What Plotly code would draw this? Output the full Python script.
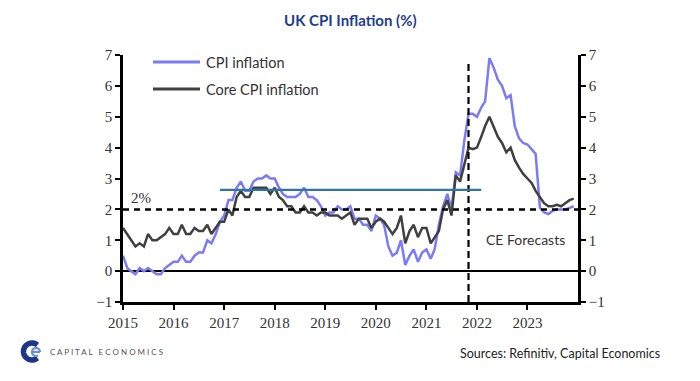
import math
import pandas as pd
import plotly.graph_objects as go

# ---------------- data ----------------
dates = pd.date_range("2015-01-01", periods=108, freq="MS")

cpi = [
    0.5, 0.1, 0.0, -0.1, 0.1, 0.0, 0.1, 0.0, -0.1, -0.1, 0.1, 0.2,      # 2015
    0.3, 0.3, 0.5, 0.3, 0.3, 0.5, 0.6, 0.6, 1.0, 0.9, 1.2, 1.6,         # 2016
    1.8, 2.3, 2.3, 2.7, 2.9, 2.6, 2.6, 2.9, 3.0, 3.0, 3.1, 3.0,         # 2017
    3.0, 2.7, 2.5, 2.4, 2.4, 2.4, 2.5, 2.7, 2.4, 2.4, 2.3, 2.1,         # 2018
    1.8, 1.9, 1.9, 2.1, 2.0, 2.0, 2.1, 1.7, 1.7, 1.5, 1.5, 1.3,         # 2019
    1.8, 1.7, 1.5, 0.8, 0.5, 0.6, 1.0, 0.2, 0.5, 0.7, 0.3, 0.6,         # 2020
    0.7, 0.4, 0.7, 1.5, 2.1, 2.5, 2.0, 3.2, 3.1, 4.2, 5.1, 5.1,         # 2021
    5.0, 5.3, 5.5, 6.9, 6.6, 6.2, 6.0, 5.6, 5.7, 4.7, 4.3, 4.15,        # 2022
    4.1, 3.95, 3.8, 2.05, 1.9, 1.85, 1.95, 2.0, 2.0, 2.0, 2.05, 2.1,    # 2023
]
core_cpi = [
    1.4, 1.2, 1.0, 0.8, 0.9, 0.8, 1.2, 1.0, 1.0, 1.1, 1.2, 1.4,         # 2015
    1.2, 1.2, 1.5, 1.2, 1.2, 1.4, 1.3, 1.3, 1.5, 1.2, 1.4, 1.6,         # 2016
    1.6, 2.0, 1.8, 2.4, 2.6, 2.4, 2.4, 2.7, 2.7, 2.7, 2.7, 2.5,         # 2017
    2.7, 2.4, 2.3, 2.1, 2.1, 1.9, 1.9, 2.1, 1.9, 1.9, 1.8, 1.9,         # 2018
    1.9, 1.8, 1.8, 1.8, 1.7, 1.8, 1.9, 1.5, 1.7, 1.7, 1.7, 1.4,         # 2019
    1.6, 1.7, 1.6, 1.4, 1.2, 1.4, 1.8, 0.9, 1.3, 1.5, 1.1, 1.4,         # 2020
    1.4, 0.9, 1.1, 1.3, 2.0, 2.3, 1.8, 3.1, 2.9, 3.4, 4.0, 3.95,        # 2021
    4.0, 4.35, 4.7, 5.0, 4.7, 4.35, 4.15, 3.85, 4.0, 3.6, 3.35, 3.15,   # 2022
    3.0, 2.85, 2.6, 2.4, 2.2, 2.1, 2.1, 2.15, 2.1, 2.2, 2.3, 2.35,      # 2023
]

series_names = ["CPI inflation", "Core CPI inflation"]
x_tick_dates = [f"{y}-01-01" for y in range(2015, 2024)]
x_tick_labels = [str(y) for y in range(2015, 2024)]
y_ticks = [-1, 0, 1, 2, 3, 4, 5, 6, 7]
x_range = ["2015-01-01", "2024-01-01"]
target_level = 2.0
forecast_start = "2021-11-01"
forecast_line_top = 6.75
avg_line_x = ["2016-12-01", "2022-02-01"]
avg_line_y = 2.63

# ---------------- style ----------------
CPI_COLOR = "#7b7bf4"
CORE_COLOR = "#404040"
AVG_COLOR = "#31769f"
SERIF = "Liberation Serif"
SANS = "Lato"

# page has an 8px body margin; plot-area pixel mapping in screen coordinates
PX_L, PX_R, PX_T, PX_B = 123, 578, 55, 302


def px(xs):
    return (xs - PX_L) / (PX_R - PX_L)


def py(ys):
    return (PX_B - ys) / (PX_B - PX_T)


fig = go.Figure()
fig.add_trace(go.Scatter(x=dates, y=cpi, mode="lines", name=series_names[0],
                         line=dict(color=CPI_COLOR, width=2.5), showlegend=False))
fig.add_trace(go.Scatter(x=dates, y=core_cpi, mode="lines", name=series_names[1],
                         line=dict(color=CORE_COLOR, width=2.5), showlegend=False))
# invisible trace so the right-hand axis renders
fig.add_trace(go.Scatter(x=dates, y=core_cpi, mode="lines", yaxis="y2",
                         line=dict(width=0), opacity=0, hoverinfo="skip",
                         showlegend=False))

fig.add_shape(type="line", xref="paper", x0=0, x1=1, yref="y",
              y0=target_level, y1=target_level,
              line=dict(color="black", width=2.5, dash="6px,5px"), layer="above")
fig.add_shape(type="line", xref="x", x0=forecast_start, x1=forecast_start,
              yref="y", y0=-1, y1=forecast_line_top,
              line=dict(color="black", width=2.2, dash="7px,4px"), layer="above")
fig.add_shape(type="line", xref="x", x0=avg_line_x[0], x1=avg_line_x[1],
              yref="y", y0=avg_line_y, y1=avg_line_y,
              line=dict(color=AVG_COLOR, width=2.4), layer="above")

# manual legend
leg_py = [62, 89]
leg_col = [CPI_COLOR, CORE_COLOR]
for i in range(2):
    fig.add_shape(type="line", xref="paper", yref="paper", x0=px(153), x1=px(200),
                  y0=py(leg_py[i]), y1=py(leg_py[i]), line=dict(color=leg_col[i], width=3))
    fig.add_annotation(xref="paper", yref="paper", x=px(204), y=py(leg_py[i]),
                       text=series_names[i], showarrow=False, xanchor="left",
                       yanchor="middle", font=dict(family=SANS, size=14.5, color="#333"))

fig.add_annotation(x="2015-02-10", y=2.38, text="2%", showarrow=False,
                   xanchor="left", yanchor="middle",
                   font=dict(family=SERIF, size=15, color="#333"))
fig.add_annotation(x="2022-12-20", y=1.03, text="CE Forecasts", showarrow=False,
                   xanchor="center", yanchor="middle",
                   font=dict(family=SANS, size=14, color="#333"))

fig.add_annotation(xref="paper", yref="paper", x=px(350), y=py(20),
                   text="<b>UK CPI Inflation (%)</b>", showarrow=False,
                   xanchor="center", yanchor="middle",
                   font=dict(family=SANS, size=15, color="#1f3d8c"))
fig.add_annotation(xref="paper", yref="paper", x=px(662), y=py(353),
                   text="Sources: Refinitiv, Capital Economics", showarrow=False,
                   xanchor="right", yanchor="middle",
                   font=dict(family=SANS, size=12.5, color="#222"))


# logo drawn from shapes
def arc_path(cx, cy, r, a0, a1, n=30):
    pts = []
    for k in range(n + 1):
        a = math.radians(a0 + (a1 - a0) * k / n)
        pts.append((px(cx + r * math.cos(a)), py(cy - r * math.sin(a))))
    return "M " + " L ".join(f"{x:.5f},{y:.5f}" for x, y in pts)


fig.add_shape(type="path", xref="paper", yref="paper",
              path=arc_path(32, 351.5, 8.5, 50, 310),
              line=dict(color="#1d3787", width=5.5))
fig.add_shape(type="path", xref="paper", yref="paper",
              path=arc_path(36, 352, 4, 0, 300),
              line=dict(color="#6e8fd6", width=2.2))
fig.add_shape(type="line", xref="paper", yref="paper",
              x0=px(32), x1=px(40), y0=py(352), y1=py(352),
              line=dict(color="#6e8fd6", width=2))
fig.add_annotation(xref="paper", yref="paper", x=px(48), y=py(352),
                   text="C A P I T A L&nbsp;&nbsp;&nbsp;E C O N O M I C S", showarrow=False,
                   xanchor="left", yanchor="middle",
                   font=dict(family=SANS, size=8, color="#555"))

axis_font = dict(family=SERIF, size=15, color="#333")
fig.update_layout(
    width=692, height=373,
    margin=dict(l=PX_L - 8, r=692 - (PX_R - 8), t=PX_T - 8, b=373 - (PX_B - 8)),
    paper_bgcolor="white", plot_bgcolor="white",
    xaxis=dict(type="date", range=x_range, tickvals=x_tick_dates, ticktext=x_tick_labels,
               ticks="outside", ticklen=5, tickwidth=2,
               tickcolor="black", showline=True, linecolor="black", linewidth=2.5,
               showgrid=False, zeroline=False, tickfont=axis_font),
    yaxis=dict(range=[-1, 7], tickvals=y_ticks, ticks="outside", ticklen=5,
               tickwidth=2, tickcolor="black", showline=True, linecolor="black",
               linewidth=2.5, showgrid=False, zeroline=True, zerolinecolor="black",
               zerolinewidth=1.8, tickfont=axis_font),
    yaxis2=dict(range=[-1, 7], tickvals=y_ticks, overlaying="y", side="right",
                ticks="outside", ticklen=5, tickwidth=2, tickcolor="black",
                showline=True, linecolor="black", linewidth=2.5, showgrid=False,
                zeroline=False, tickfont=axis_font),
    showlegend=False,
)

fig.write_html("out.html")
